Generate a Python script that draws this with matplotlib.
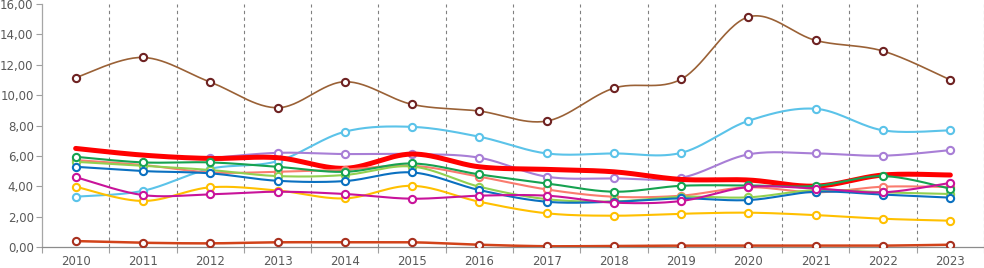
import numpy as np
import matplotlib
matplotlib.use("Agg")
import matplotlib.pyplot as plt

years = list(range(2010, 2024))
nan = np.nan

brown = [11.15, 12.48, 10.86, 9.17, 10.88, 9.39, 8.95, 8.29, 10.46, 11.05, 15.15, 13.6, 12.9, 11.0]
light_blue = [3.31, 3.7, 5.15, 5.65, 7.59, 7.91, 7.26, 6.16, 6.16, 6.2, 8.31, 9.1, 7.68, 7.68]
purple = [nan, nan, 5.85, 6.2, 6.12, 6.12, 5.88, 4.63, 4.52, 4.56, 6.1, 6.16, 6.01, 6.38]
red = [6.49, 6.05, 5.83, 5.88, 5.18, 6.12, 5.28, 5.11, 4.95, 4.45, 4.41, 4.01, 4.74, 4.74]
green = [5.94, 5.57, 5.57, 5.28, 4.95, 5.5, 4.78, 4.19, 3.64, 4.03, 4.05, 4.02, 4.67, 3.84]
light_green = [5.61, 5.35, 5.07, 4.67, 4.74, 5.3, 3.97, 3.15, 3.0, 3.31, 3.27, 3.75, 3.6, 3.49]
salmon = [5.72, 5.4, 4.91, 4.95, 5.1, 5.35, 4.63, 3.79, 3.31, 3.38, 3.93, 3.6, 3.97, 3.95]
blue = [5.28, 5.0, 4.85, 4.36, 4.34, 4.91, 3.75, 2.98, 2.98, 3.2, 3.09, 3.64, 3.45, 3.25]
magenta = [4.6, 3.42, 3.47, 3.64, 3.49, 3.18, 3.38, 3.38, 2.92, 3.03, 3.95, 3.85, 3.6, 4.22]
yellow = [3.97, 3.03, 3.93, 3.72, 3.2, 4.03, 2.98, 2.22, 2.06, 2.19, 2.26, 2.1, 1.86, 1.73]
bottom = [0.39, 0.28, 0.24, 0.31, 0.31, 0.31, 0.15, 0.05, 0.07, 0.09, 0.09, 0.09, 0.09, 0.15]

yticks = [0, 2, 4, 6, 8, 10, 12, 14, 16]


def smooth(xs, ys, n=30):
    xs = np.asarray(xs, float)
    ys = np.asarray(ys, float)
    m = ~np.isnan(ys)
    xs, ys = xs[m], ys[m]
    P = np.column_stack([xs, ys])
    k = len(P)
    out = []
    for i in range(k - 1):
        p0 = P[i - 1] if i > 0 else P[i]
        p1 = P[i]
        p2 = P[i + 1]
        p3 = P[i + 2] if i + 2 < k else P[i + 1]
        c1 = p1 + (p2 - p0) / 6.0
        c2 = p2 - (p3 - p1) / 6.0
        t = np.linspace(0, 1, n)[:, None]
        seg = ((1 - t) ** 3) * p1 + 3 * ((1 - t) ** 2) * t * c1 + 3 * (1 - t) * t ** 2 * c2 + t ** 3 * p2
        out.append(seg if i == 0 else seg[1:])
    seg = np.vstack(out)
    return seg[:, 0], seg[:, 1]


fig = plt.figure(figsize=(9.84, 2.68), dpi=100)
ax = fig.add_axes([42 / 984, 21 / 268, (984 - 42) / 984, 243 / 268])

x = np.arange(len(years))

series = [
    # data, line color, marker edge, lw, marker
    (light_blue, "#5BC3E9", "#5BC3E9", 1.5, True),
    (purple, "#A87ED6", "#A87ED6", 1.5, True),
    (red, "#FF0000", None, 3.6, False),
    (salmon, "#FA7B6E", "#FA7B6E", 1.5, True),
    (light_green, "#92D050", "#92D050", 1.5, True),
    (green, "#16A250", "#16A250", 1.5, True),
    (blue, "#0A70C0", "#0A70C0", 1.5, True),
    (yellow, "#FFC000", "#FFC000", 1.5, True),
    (magenta, "#C8139A", "#C8139A", 1.5, True),
    (brown, "#9A6136", "#6E2222", 1.2, True),
    (bottom, "#D2431A", "#A8301E", 1.8, True),
]

z = 3
for data, col, mcol, lw, mk in series:
    sx, sy = smooth(x, data)
    ax.plot(sx, sy, color=col, lw=lw, solid_capstyle="round", zorder=z)
    if mk:
        d = np.asarray(data, float)
        ax.plot(x, d, ls="none", marker="o", ms=5.2, mfc="white", mec=mcol, mew=1.5, zorder=z + 0.5)
    z += 1

ax.set_xlim(-0.5, len(years) - 0.5)
ax.set_ylim(0, 16)
ax.set_yticks(yticks)
ax.set_yticklabels([f"{v:.2f}".replace(".", ",") for v in yticks])
ax.set_xticks(x)
ax.set_xticklabels([str(y) for y in years])
ax.set_xticks(np.arange(-0.5, len(years), 1.0), minor=True)

for b in np.arange(0.5, len(years), 1.0):
    ax.axvline(b, color="#808080", lw=0.8, ls=(0, (3, 3)), zorder=1)

ax.tick_params(axis="x", which="major", length=0, pad=6, labelsize=8.5, labelcolor="#595959")
ax.tick_params(axis="x", which="minor", length=4, color="#A0A0A0", width=0.8)
ax.tick_params(axis="y", which="major", length=4, color="#A0A0A0", width=0.8, pad=2,
               labelsize=8.5, labelcolor="#595959")

for s in ["top", "right"]:
    ax.spines[s].set_visible(False)
ax.spines["left"].set_color("#A6A6A6")
ax.spines["bottom"].set_color("#8C8C8C")
ax.spines["left"].set_linewidth(0.9)
ax.spines["bottom"].set_linewidth(0.9)
for lab in ax.get_yticklabels():
    lab.set_clip_on(False)

fig.savefig("out.png", dpi=100)
